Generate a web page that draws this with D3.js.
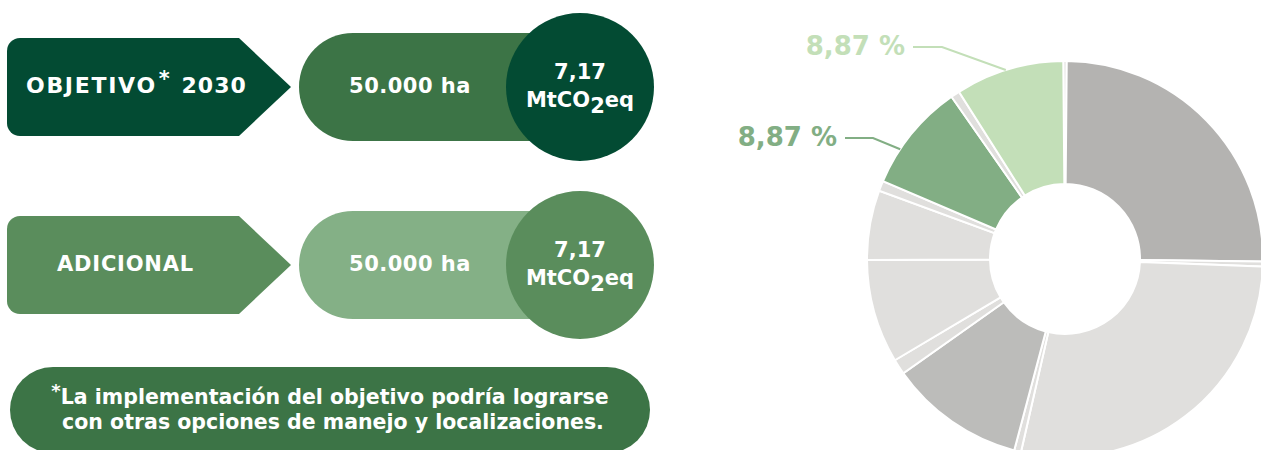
<!DOCTYPE html>
<html>
<head>
<meta charset="utf-8">
<script src="https://cdn.jsdelivr.net/npm/d3@7"></script>
<style>
    body { margin: 0; background: #fff; }
    text { font-family: "DejaVu Sans", sans-serif; font-weight: bold; }
</style>
</head>
<body>
<div id="chart"></div>
<script>
// row data
var rowLabels = ["OBJETIVO", "ADICIONAL"];
var rowAsterisk = [true, false];
var rowYear = ["2030", ""];
var rowArea = ["50.000 ha", "50.000 ha"];
var rowEmission = ["7,17", "7,17"];
var emissionUnit = ["MtCO", "2", "eq"];

var noteLines = [
    "La implementación del objetivo podría lograrse",
    "con otras opciones de manejo y localizaciones."
];

// donut slices, clockwise from 12 o'clock (percent)
var sliceGroups = ["sep", "gris1", "sep", "gris2", "sep", "gris3", "sep", "gris2", "gris2", "sep", "verde", "sep", "verdeClaro"];
var sliceValues = [0.28, 25.1, 0.42, 28.0, 0.56, 11.1, 1.25, 8.47, 5.7, 0.83, 8.87, 0.72, 8.87];

// highlighted slices and their labels
var labelSlices = [12, 10];
var labelTexts = ["8,87 %", "8,87 %"];

function init() {
    var w = 1261;
    var h = 450;

    var svg = d3.select("#chart")
        .append("svg")
        .attr("width", w)
        .attr("height", h);

    // row styles
    var boxColors = ["#034b33", "#5a8d5c"];
    var pillColors = ["#3c7446", "#84b086"];
    var circleColors = ["#034b33", "#5a8d5c"];
    var rowCenters = [87, 265];
    var labelX = [26, 57];
    var labelSize = [22, 21];
    var labelSpacing = [1.7, 0.8];

    function arrowPath(x, y, bw, bh, tip, r) {
        return "M" + (x + r) + "," + y +
            "L" + (x + bw) + "," + y +
            "L" + (x + bw + tip) + "," + (y + bh / 2) +
            "L" + (x + bw) + "," + (y + bh) +
            "L" + (x + r) + "," + (y + bh) +
            "A" + r + "," + r + " 0 0 1 " + x + "," + (y + bh - r) +
            "L" + x + "," + (y + r) +
            "A" + r + "," + r + " 0 0 1 " + (x + r) + "," + y + "Z";
    }

    var rows = svg.selectAll(".row")
        .data(rowLabels)
        .enter()
        .append("g")
        .attr("class", "row")
        .attr("transform", function (d, i) { return "translate(0," + rowCenters[i] + ")"; });

    // arrow box
    rows.append("path")
        .attr("d", arrowPath(7, -49, 232, 98, 52, 13))
        .attr("fill", function (d, i) { return boxColors[i]; });

    // pill
    rows.append("rect")
        .attr("x", 299)
        .attr("y", -54)
        .attr("width", 290)
        .attr("height", 108)
        .attr("rx", 54)
        .attr("fill", function (d, i) { return pillColors[i]; });

    // circle
    rows.append("circle")
        .attr("cx", 580)
        .attr("cy", 0)
        .attr("r", 74)
        .attr("fill", function (d, i) { return circleColors[i]; });

    // label text
    var label = rows.append("text")
        .attr("x", function (d, i) { return labelX[i]; })
        .attr("y", 6)
        .attr("fill", "#fff")
        .attr("font-size", function (d, i) { return labelSize[i]; })
        .attr("letter-spacing", function (d, i) { return labelSpacing[i]; });

    label.append("tspan").text(function (d) { return d; });
    label.append("tspan")
        .attr("dy", -7)
        .attr("dx", 2)
        .attr("font-size", 21)
        .text(function (d, i) { return rowAsterisk[i] ? "*" : ""; });
    label.append("tspan")
        .attr("dy", 7)
        .attr("dx", 10)
        .attr("letter-spacing", 1)
        .text(function (d, i) { return rowYear[i]; });

    rows.append("text")
        .attr("x", 410)
        .attr("y", 6)
        .attr("text-anchor", "middle")
        .attr("fill", "#fff")
        .attr("font-size", 21)
        .attr("letter-spacing", 0.5)
        .text(function (d, i) { return rowArea[i]; });

    rows.append("text")
        .attr("x", 580)
        .attr("y", -8)
        .attr("text-anchor", "middle")
        .attr("fill", "#fff")
        .attr("font-size", 21)
        .text(function (d, i) { return rowEmission[i]; });

    var unit = rows.append("text")
        .attr("x", 580)
        .attr("y", 20)
        .attr("text-anchor", "middle")
        .attr("fill", "#fff")
        .attr("font-size", 21);
    unit.append("tspan").text(emissionUnit[0]);
    unit.append("tspan").attr("dy", 6).text(emissionUnit[1]);
    unit.append("tspan").attr("dy", -6).text(emissionUnit[2]);

    // footnote pill
    svg.append("rect")
        .attr("x", 10)
        .attr("y", 367)
        .attr("width", 640)
        .attr("height", 86)
        .attr("rx", 43)
        .attr("fill", "#3c7446");

    var note = svg.append("g");
    var noteText = note.selectAll("text")
        .data(noteLines)
        .enter()
        .append("text")
        .attr("x", function (d, i) { return i === 0 ? 330 : 333; })
        .attr("y", function (d, i) { return 404 + i * 25; })
        .attr("text-anchor", "middle")
        .attr("fill", "#fff")
        .attr("font-size", 20.5);

    noteText.append("tspan")
        .attr("font-size", 18)
        .attr("dy", -7)
        .text(function (d, i) { return i === 0 ? "*" : ""; });
    noteText.append("tspan")
        .attr("dy", function (d, i) { return i === 0 ? 7 : 0; })
        .text(function (d) { return d; });

    // donut
    var cx = 1065, cy = 259, outerR = 198, innerR = 75;
    var color = d3.scaleOrdinal()
        .domain(["sep", "gris1", "gris2", "gris3", "verde", "verdeClaro"])
        .range(["#e0dfdd", "#b4b3b1", "#e0dfdd", "#bcbcba", "#82ae84", "#c3dfb8"]);

    var start = -0.5 * Math.PI / 180;
    var pie = d3.pie()
        .sort(null)
        .value(function (d) { return d; })
        .startAngle(start)
        .endAngle(start + 2 * Math.PI);

    var arcs = pie(sliceValues);
    var arc = d3.arc().innerRadius(innerR).outerRadius(outerR);

    var donut = svg.append("g")
        .attr("transform", "translate(" + cx + "," + cy + ")");

    donut.selectAll("path")
        .data(arcs)
        .enter()
        .append("path")
        .attr("d", arc)
        .attr("fill", function (d, i) { return color(sliceGroups[i]); })
        .attr("stroke", "#fff")
        .attr("stroke-width", 2);

    // leader lines + labels
    var labelFrac = [0.47, 0.33];
    var labelPos = [{ x: 942, y: 47, tx: 905 }, { x: 873, y: 138, tx: 837 }];
    var labelColors = ["#c3dfb8", "#82ae84"];

    labelSlices.forEach(function (s, i) {
        var a = arcs[s];
        var ang = a.startAngle + (a.endAngle - a.startAngle) * labelFrac[i];
        var ex = cx + outerR * Math.sin(ang);
        var ey = cy - outerR * Math.cos(ang);
        var p = labelPos[i];
        svg.append("polyline")
            .attr("points", (p.tx + 8) + "," + p.y + " " + p.x + "," + p.y + " " + ex + "," + ey)
            .attr("fill", "none")
            .attr("stroke", labelColors[i])
            .attr("stroke-width", 2);
        svg.append("text")
            .attr("x", p.tx)
            .attr("y", p.y + 8)
            .attr("text-anchor", "end")
            .attr("fill", labelColors[i])
            .attr("font-size", 26)
            .text(labelTexts[i]);
    });
}

window.onload = init;
</script>
</body>
</html>
